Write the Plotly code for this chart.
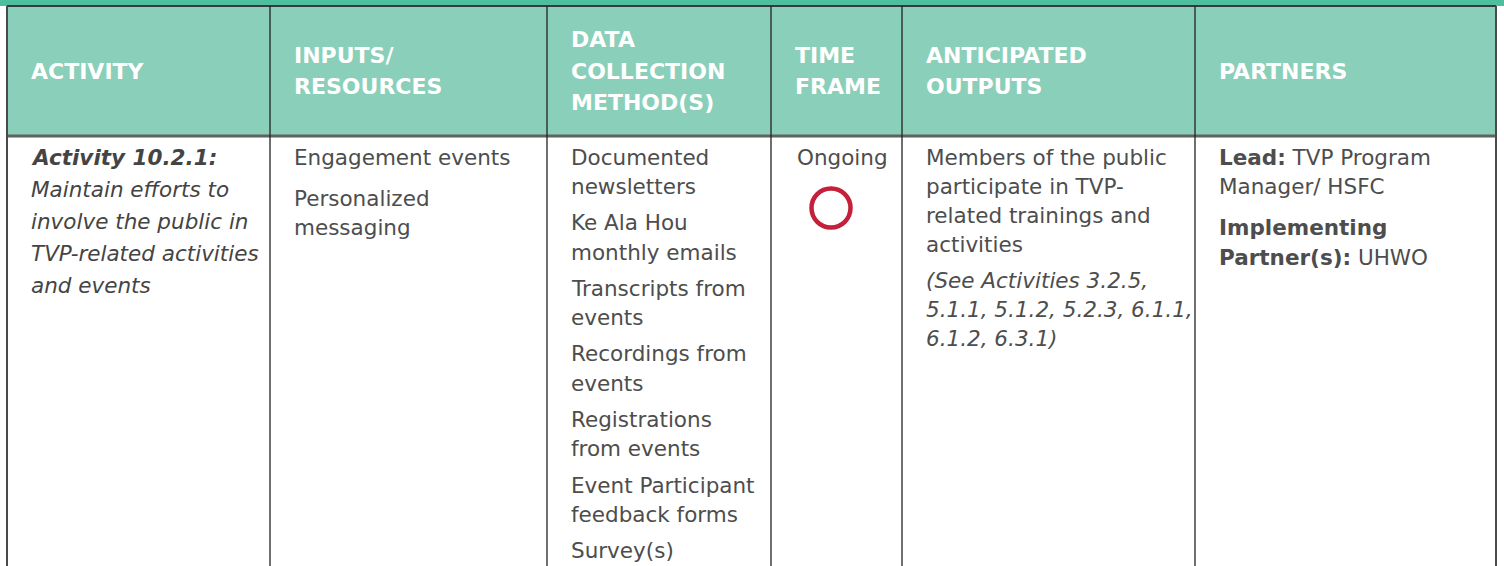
import plotly.graph_objects as go

# ---------------- data ----------------
header_lines = [["ACTIVITY"], ["INPUTS/", "RESOURCES"], ["DATA", "COLLECTION", "METHOD(S)"],
                ["TIME", "FRAME"], ["ANTICIPATED", "OUTPUTS"], ["PARTNERS"]]
activity = [["<b>Activity 10.2.1:</b>", "Maintain efforts to", "involve the public in",
             "TVP-related activities", "and events"]]
inputs = [["Engagement events"], ["Personalized", "messaging"]]
methods = [["Documented", "newsletters"], ["Ke Ala Hou", "monthly emails"],
           ["Transcripts from", "events"], ["Recordings from", "events"],
           ["Registrations", "from events"], ["Event Participant", "feedback forms"],
           ["Survey(s)"]]
time_frame = [["Ongoing"]]
outputs = [["Members of the public", "participate in TVP-", "related trainings and", "activities"],
           ["<i>(See Activities 3.2.5,</i>", "<i>5.1.1, 5.1.2, 5.2.3, 6.1.1,</i>", "<i>6.1.2, 6.3.1)</i>"]]
partners = [["<b>Lead:</b> TVP Program", "Manager/ HSFC"],
            ["<b>Implementing</b>", "<b>Partner(s):</b> UHWO"]]
status = ["Ongoing"]  # status marker shown in the time frame column

# ---------------- layout constants ----------------
W, H = 1504, 566
col_edges = [7, 270, 547, 771, 902, 1195, 1496]
pad = 21.5
header_top, header_bot = 6, 136
header_mid, header_lh = 71, 31.5
body_top = 157
TEAL_DARK = "#4dbf9e"
TEAL = "#8acfb9"
TEXT = "#4d4d4d"
FONT = "DejaVu Sans"

fig = go.Figure()
shapes = []
annotations = []

# background strips
shapes.append(dict(type="rect", x0=0, x1=W, y0=0, y1=header_top, fillcolor=TEAL_DARK, line_width=0, layer="below"))
shapes.append(dict(type="rect", x0=col_edges[0], x1=col_edges[-1], y0=header_top, y1=header_bot,
                   fillcolor=TEAL, line_width=0, layer="below"))
# grid lines
shapes.append(dict(type="line", x0=col_edges[0], x1=col_edges[-1], y0=header_top, y1=header_top,
                   line=dict(color="#3a3a3a", width=2)))
shapes.append(dict(type="line", x0=col_edges[0], x1=col_edges[-1], y0=header_bot, y1=header_bot,
                   line=dict(color="#5e635f", width=3)))
for i, x in enumerate(col_edges):
    outer = i in (0, len(col_edges) - 1)
    shapes.append(dict(type="line", x0=x, x1=x, y0=header_top, y1=H,
                       line=dict(color="#4a4a4a" if outer else "#222222", width=2 if outer else 1.3)))

# header text
for i, lines in enumerate(header_lines):
    n = len(lines)
    for j, t in enumerate(lines):
        y = header_mid + (j - (n - 1) / 2) * header_lh
        annotations.append(dict(x=col_edges[i] + pad, y=y, text="<b>" + t + "</b>", showarrow=False,
                                xanchor="left", yanchor="middle",
                                font=dict(family=FONT, size=22, color="white")))


def add_column(ci, paragraphs, lh, gap, italic=False, size=21.5, color=TEXT, center=False):
    y = body_top
    for p in paragraphs:
        for t in p:
            txt = "<i>" + t + "</i>" if italic else t
            annotations.append(dict(x=(col_edges[ci] + col_edges[ci + 1]) / 2 + 6 if center else col_edges[ci] + pad,
                                    y=y, text=txt, showarrow=False,
                                    xanchor="center" if center else "left", yanchor="middle",
                                    font=dict(family=FONT, size=size, color=color)))
            y += lh
        y += gap


add_column(0, activity, 32, 0, italic=True, color="#444444")
add_column(1, inputs, 29.5, 11.5)
add_column(2, methods, 29.4, 6.8)
add_column(3, time_frame, 29, 0, center=True)
add_column(4, outputs, 29, 7)
add_column(5, partners, 29.5, 11.5)

# status marker (open red circle)
fig.add_trace(go.Scatter(x=[col_edges[3] + 60 for _ in status], y=[208 for _ in status], mode="markers",
                         marker=dict(symbol="circle-open", size=39, color="#c41f3b", line=dict(width=4.5)),
                         hoverinfo="skip", showlegend=False))

fig.update_layout(width=W, height=H, margin=dict(l=0, r=0, t=0, b=0),
                  paper_bgcolor="white", plot_bgcolor="white",
                  xaxis=dict(range=[0, W], visible=False, fixedrange=True),
                  yaxis=dict(range=[H, 0], visible=False, fixedrange=True),
                  shapes=shapes, annotations=annotations, showlegend=False)

fig.write_html("out.html", config={"displayModeBar": False},
               post_script="document.body.style.margin='0';document.body.style.overflow='hidden';")
